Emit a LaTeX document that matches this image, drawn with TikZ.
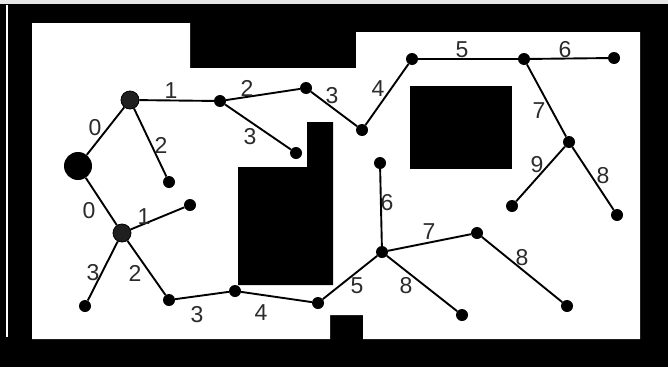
\documentclass[tikz,border=0pt]{standalone}
\usepackage{fontspec}
\setmainfont{Liberation Sans}
\usepackage{tikz}
\usetikzlibrary{positioning}
\definecolor{wallgray}{HTML}{E6E6E6}
\definecolor{labelgray}{HTML}{2B2B2B}
\tikzset{
  wall/.style={fill=black, draw=none},
  freespace/.style={fill=white, draw=none},
  start/.style={circle, fill=black, minimum size=28pt, inner sep=0pt},
  branch/.style={circle, draw=black, thick, fill=black!88, minimum size=18pt, inner sep=0pt},
  leaf/.style={circle, fill=black, minimum size=12pt, inner sep=0pt},
  edge/.style={line width=1.9pt, color=black},
  cost/.style={font=\fontsize{23}{23}\selectfont, text=labelgray, inner sep=0pt},
}
\begin{document}
\begin{tikzpicture}[x=1pt,y=-1pt]
  \useasboundingbox (0,0) rectangle (668,367);
  % map
  \fill[wall] (0,0) rectangle (668,367);
  \fill[wallgray] (0,0) rectangle (668,4);
  \fill[white] (6,5) rectangle (8,337);
  \fill[freespace] (32,23) -- (190,23) -- (190,68) -- (356,68) -- (356,32) -- (640,32)
    -- (640,339) -- (363,339) -- (363,315) -- (330,315) -- (330,339) -- (32,339) -- cycle;
  \fill[wall] (238,167) -- (307,167) -- (307,122) -- (333,122) -- (333,285) -- (238,285) -- cycle;
  \fill[wall] (410,86) rectangle (512,169);
  % tree nodes
  \node[start] (root) at (78,166) {};
  \node[branch] (up) at (130,100) {};
  \node[leaf] (u1) at (220,101) {};
  \node[leaf] (u2) at (169,182) {};
  \node[leaf] (u3) at (306,88) {};
  \node[leaf] (u4) at (296,153) {};
  \node[leaf] (u5) at (362,130) {};
  \node[leaf] (u6) at (412,59) {};
  \node[leaf] (u7) at (524,59) {};
  \node[leaf] (u8) at (614,58) {};
  \node[leaf] (u9) at (569,142) {};
  \node[leaf] (u10) at (512,206) {};
  \node[leaf] (u11) at (617,215) {};
  \node[branch] (low) at (122,233) {};
  \node[leaf] (l1) at (190,205) {};
  \node[leaf] (l2) at (85,306) {};
  \node[leaf] (l3) at (169,300) {};
  \node[leaf] (l4) at (235,291) {};
  \node[leaf] (l5) at (318,303) {};
  \node[leaf] (l6) at (382,252) {};
  \node[leaf] (l7) at (380,163) {};
  \node[leaf] (l8) at (477,233) {};
  \node[leaf] (l9) at (462,315) {};
  \node[leaf] (l10) at (567,306) {};
  % edges
  \draw[edge] (root) -- (up);
  \draw[edge] (up) -- (u1);
  \draw[edge] (up) -- (u2);
  \draw[edge] (u1) -- (u3);
  \draw[edge] (u1) -- (u4);
  \draw[edge] (u3) -- (u5);
  \draw[edge] (u5) -- (u6);
  \draw[edge] (u6) -- (u7);
  \draw[edge] (u7) -- (u8);
  \draw[edge] (u7) -- (u9);
  \draw[edge] (u9) -- (u10);
  \draw[edge] (u9) -- (u11);
  \draw[edge] (root) -- (low);
  \draw[edge] (low) -- (l1);
  \draw[edge] (low) -- (l2);
  \draw[edge] (low) -- (l3);
  \draw[edge] (l3) -- (l4);
  \draw[edge] (l4) -- (l5);
  \draw[edge] (l5) -- (l6);
  \draw[edge] (l6) -- (l7);
  \draw[edge] (l6) -- (l8);
  \draw[edge] (l6) -- (l9);
  \draw[edge] (l8) -- (l10);
  % costs
  \node[cost] (c0up) at (95,128) {0};
  \node[cost] (c1up) at (171,91) {1};
  \node[cost] (c2up) at (161,145) {2};
  \node[cost] (c2u1) at (247,88) {2};
  \node[cost] (c3u1) at (250,137) {3};
  \node[cost] (c3u3) at (332,96) {3};
  \node[cost] (c4u5) at (378,89) {4};
  \node[cost] (c5u6) at (462,50) {5};
  \node[cost] (c6u7) at (565,50) {6};
  \node[cost] (c7u7) at (539,111) {7};
  \node[cost] (c9u9) at (537,165) {9};
  \node[cost] (c8u9) at (603,176) {8};
  \node[cost] (c0low) at (89,211) {0};
  \node[cost] (c1low) at (144,217) {1};
  \node[cost] (c3low) at (93,273) {3};
  \node[cost] (c2low) at (135,273) {2};
  \node[cost] (c3l3) at (197,315) {3};
  \node[cost] (c4l4) at (261,313) {4};
  \node[cost] (c5l5) at (357,286) {5};
  \node[cost] (c6l6) at (387,203) {6};
  \node[cost] (c7l6) at (429,232) {7};
  \node[cost] (c8l6) at (406,286) {8};
  \node[cost] (c8l8) at (522,258) {8};
\end{tikzpicture}
\end{document}
